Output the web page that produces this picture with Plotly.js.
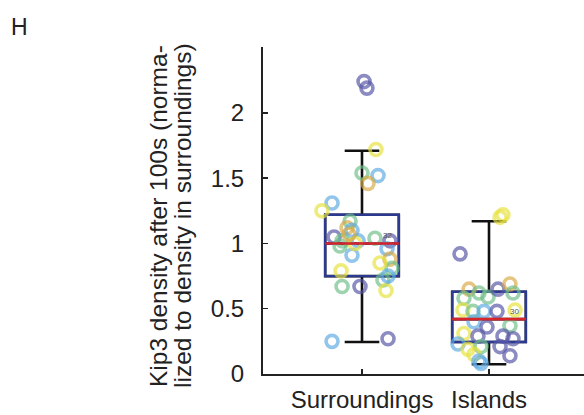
<!DOCTYPE html>
<html>
<head>
<meta charset="utf-8">
<script src="https://cdn.plot.ly/plotly-3.0.1.min.js"></script>
<style>html,body{margin:0;padding:0;background:#fff;}#chart{width:584px;height:415px;}</style>
</head>
<body>
<div id="chart"></div>
<script>
// Categories and tick labels
const categories = ['Surroundings', 'Islands'];
const catPos = [1, 2];
const nLabels = ['32', '30'];
const yTickVals = [0, 0.5, 1, 1.5, 2];
const yTickText = ['0', '0.5', '1', '1.5', '2'];
const yTitleLines = ['Kip3 density after 100s (norma-', 'lized to density in surroundings)'];

// Box statistics
const q1 = [0.75, 0.245];
const medianVals = [1.0, 0.42];
const q3 = [1.22, 0.63];
const lowerWhisker = [0.245, 0.075];
const upperWhisker = [1.71, 1.17];

// Individual points: jittered x (data units, around 1), value, colour group
const surrX = [1.016, 1.039, 1.110, 1.000, 1.126, 1.047, 0.764, 0.685, 0.906, 0.882, 0.921, 0.780, 0.843, 0.969, 1.102, 1.220, 1.197, 0.921, 1.220, 1.236, 0.835, 0.843, 0.984, 1.165, 1.189, 0.764, 1.205, 0.945, 0.827, 1.142, 1.205, 0.898];
const surrY = [2.24, 2.19, 1.72, 1.54, 1.52, 1.46, 1.31, 1.25, 1.17, 1.12, 1.10, 1.05, 1.02, 1.02, 1.04, 1.02, 0.96, 0.91, 0.88, 0.81, 0.79, 0.67, 0.67, 0.72, 0.64, 0.25, 0.27, 1.00, 0.98, 0.85, 0.75, 1.07];
const surrC = [0, 0, 3, 2, 1, 4, 1, 3, 2, 4, 1, 0, 2, 1, 2, 0, 1, 1, 4, 2, 3, 2, 0, 2, 3, 1, 0, 3, 2, 3, 1, 4];

const islX = [1.110, 1.087, 0.772, 0.843, 0.921, 0.992, 1.071, 1.165, 1.189, 0.803, 0.795, 0.874, 0.961, 1.063, 1.205, 0.882, 0.984, 1.165, 0.803, 0.913, 1.110, 1.189, 0.756, 0.835, 0.937, 1.087, 1.165, 0.882, 0.921, 0.937];
const islY = [1.22, 1.20, 0.92, 0.65, 0.62, 0.59, 0.65, 0.69, 0.62, 0.58, 0.49, 0.48, 0.48, 0.48, 0.49, 0.40, 0.36, 0.37, 0.31, 0.29, 0.29, 0.27, 0.23, 0.19, 0.21, 0.21, 0.14, 0.15, 0.10, 0.08];
const islC = [3, 3, 0, 4, 2, 2, 0, 4, 2, 2, 3, 2, 1, 0, 3, 1, 0, 2, 3, 0, 0, 0, 1, 3, 2, 0, 0, 3, 1, 1];

const palette = ['rgba(85,85,165,0.68)', 'rgba(95,170,225,0.68)', 'rgba(110,190,135,0.68)', 'rgba(232,226,60,0.68)', 'rgba(215,170,70,0.68)'];

const pointSets = [[surrX, surrY, surrC], [islX, islY, islC]];
const traces = [];

pointSets.forEach((ps, i) => {
  const cols = ps[2].map(c => palette[c]);
  traces.push({
    type: 'scatter', mode: 'markers',
    x: ps[0].map(v => v + (catPos[i] - 1)), y: ps[1],
    marker: {symbol: 'circle-open', size: 12, color: cols, line: {width: 3.6, color: cols}},
    hoverinfo: 'y', showlegend: false
  });
});

catPos.forEach((p, i) => {
  // Black whiskers
  traces.push({
    type: 'box', x: [p], q1: [q1[i]], median: [medianVals[i]], q3: [q3[i]],
    lowerfence: [lowerWhisker[i]], upperfence: [upperWhisker[i]],
    width: 0.58, whiskerwidth: 0.47, boxpoints: false,
    line: {color: '#111', width: 2.6}, fillcolor: 'rgba(0,0,0,0)', showlegend: false, hoverinfo: 'skip'
  });
  // Blue box on top
  traces.push({
    type: 'box', x: [p], q1: [q1[i]], median: [medianVals[i]], q3: [q3[i]],
    lowerfence: [q1[i]], upperfence: [q3[i]],
    width: 0.58, whiskerwidth: 0, boxpoints: false,
    line: {color: '#2b3990', width: 2.4}, fillcolor: 'rgba(0,0,0,0)', showlegend: false, hoverinfo: 'skip'
  });
  // Red median line
  traces.push({
    type: 'scatter', mode: 'lines',
    x: [p - 0.29, p + 0.29], y: [medianVals[i], medianVals[i]],
    line: {color: '#d7262b', width: 2.6}, showlegend: false, hoverinfo: 'skip'
  });
});

// Plot area geometry (pixels) for paper-coordinate annotations
const W = 584, H = 415, L = 263, R = 0, T = 47, B = 41;
const pw = W - L - R, ph = H - T - B;
const px = x => (x - L) / pw;
const py = y => (H - B - y) / ph;

const annotations = catPos.map((p, i) => ({
  x: p + 0.2, y: medianVals[i], xref: 'x', yref: 'y', yanchor: 'bottom', xanchor: 'center',
  text: nLabels[i], showarrow: false, font: {family: 'Liberation Sans, Arial', size: 8, color: '#555'}, yshift: 1
}));
annotations.push({
  x: px(9), y: py(12), xref: 'paper', yref: 'paper', xanchor: 'left', yanchor: 'top',
  text: 'H', showarrow: false, font: {family: 'Liberation Sans, Arial', size: 23, color: '#222'}
});
const titleX = [159, 183];
yTitleLines.forEach((t, i) => {
  annotations.push({
    x: px(titleX[i]), y: py(216), xref: 'paper', yref: 'paper', xanchor: 'center', yanchor: 'middle',
    text: t, textangle: -90, showarrow: false, font: {family: 'Liberation Sans, Arial', size: 24.5, color: '#222'}
  });
});

const layout = {
  width: W, height: H,
  margin: {l: L, r: R, t: T, b: B},
  paper_bgcolor: '#fff', plot_bgcolor: '#fff',
  font: {family: 'Liberation Sans, Arial, sans-serif', color: '#222', size: 24},
  boxmode: 'overlay',
  xaxis: {
    range: [0.2205, 2.748], tickvals: catPos, ticktext: categories,
    ticks: 'inside', ticklen: 5, tickwidth: 1.5, tickcolor: '#222',
    showline: true, linecolor: '#222', linewidth: 2, showgrid: false, zeroline: false,
    tickfont: {size: 24}, ticklabelstandoff: 3
  },
  yaxis: {
    range: [0, 2.505], tickvals: yTickVals, ticktext: yTickText,
    ticks: 'inside', ticklen: 5, tickwidth: 1.5, tickcolor: '#222',
    showline: true, linecolor: '#222', linewidth: 2, showgrid: false, zeroline: false,
    tickfont: {size: 24}, ticklabelstandoff: 12
  },
  annotations: annotations,
  showlegend: false
};

Plotly.newPlot('chart', traces, layout, {displayModeBar: false, staticPlot: true});
</script>
</body>
</html>
